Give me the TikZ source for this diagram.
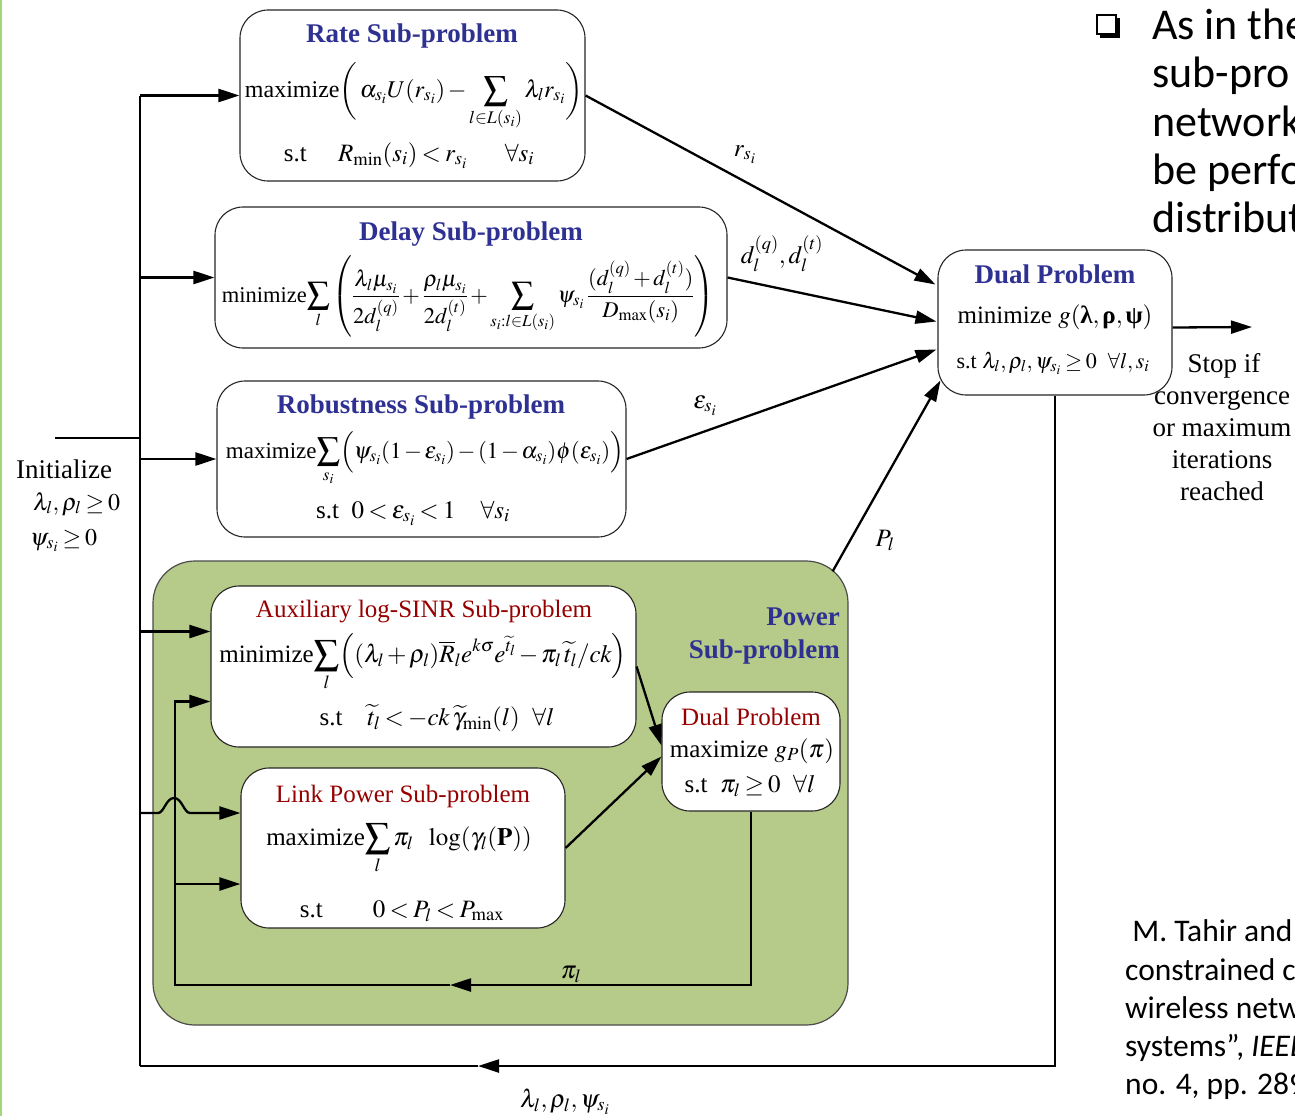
\documentclass[tikz,border=0pt]{standalone}
\usepackage{mathptmx}
\usepackage{amsmath}
\usepackage[no-math]{fontspec}
\setmainfont{Liberation Serif}
\newfontfamily\slidefont{Carlito}
\usetikzlibrary{arrows.meta}
\definecolor{titleblue}{RGB}{46,49,146}
\definecolor{titlered}{RGB}{150,0,0}
\definecolor{powergreen}{RGB}{182,202,137}
\definecolor{edgegreen}{RGB}{160,215,120}
% tighter spacing around operators and relations
\medmuskip=2mu plus 1mu minus 1mu
\thickmuskip=3mu plus 2mu
\begin{document}
\begin{tikzpicture}[x=1pt,y=-1pt,
  box/.style={draw=black!85,line width=1.1pt,rounded corners=28pt,fill=white,inner sep=0pt},
  conn/.style={line width=2.3pt},
  arr/.style={conn,-{Triangle[length=21pt,width=13pt]}},
  ttl/.style={anchor=base,inner sep=0pt,font=\fontsize{27}{32}\selectfont\bfseries,text=titleblue},
  subttl/.style={anchor=base,inner sep=0pt,font=\fontsize{25}{30}\selectfont,text=titlered},
  body/.style={anchor=base,inner sep=0pt,font=\fontsize{25}{30}\selectfont},
  small/.style={anchor=base,inner sep=0pt,font=\fontsize{22}{26}\selectfont},
  lbl/.style={anchor=base,inner sep=0pt,font=\fontsize{25}{30}\selectfont},
  plain/.style={anchor=base,inner sep=0pt,font=\fontsize{27}{32}\selectfont},
  slide/.style={anchor=base west,inner sep=0pt,font=\slidefont\fontsize{44}{48}\selectfont},
  cite/.style={anchor=base west,inner sep=0pt,font=\slidefont\fontsize{31.5}{38}\selectfont},
]
\useasboundingbox (0,0) rectangle (1295,1116);
\fill[white] (0,0) rectangle (1295,1116);
\draw[edgegreen,line width=2pt] (1,0) -- (1,1116);

% ---- power sub-problem container ----
\node[draw=black!70,line width=1.2pt,fill=powergreen,rounded corners=42pt,
      minimum width=695,minimum height=464,inner sep=0pt] (power) at (500.5,793) {};
\node[ttl,anchor=base east] (powerA) at (840,625) {Power};
\node[ttl,anchor=base east] (powerB) at (840,658) {Sub-problem};

% ---- boxes ----
\node[box,minimum width=345,minimum height=171] (rate)  at (412.5,95.5) {};
\node[box,minimum width=512,minimum height=141] (delay) at (471,277.5) {};
\node[box,minimum width=409,minimum height=156] (rob)   at (421.5,459) {};
\node[box,minimum width=234,minimum height=145] (dual)  at (1055,322.5) {};
\node[box,minimum width=425,minimum height=161] (aux)   at (423.5,666.5) {};
\node[box,minimum width=324,minimum height=160] (link)  at (403,848) {};
\node[box,minimum width=178,minimum height=119] (idual) at (751,751.5) {};

% ---- rate ----
\node[ttl] (rateT) at (412,43) {Rate Sub-problem};
\node[body,font=\fontsize{24}{29}\selectfont] (rateF) at (414,97) {maximize$\displaystyle\biggl(\,\alpha_{s_i}U(r_{s_i})-\sum_{l\in L(s_i)}\lambda_l r_{s_i}\biggr)$};
\node[body] (rateC) at (409,161) {s.t\quad\ $R_{\min}(s_i)<r_{s_i}\quad\ \ \forall s_i$};

% ---- delay ----
\node[ttl] (delayT) at (471,240) {Delay Sub-problem};
\node[body,font=\fontsize{22.5}{27}\selectfont] (delayF) at (468,302) {minimize$\displaystyle\sum_l\left(\frac{\lambda_l\mu_{s_i}}{2d_l^{(q)}}+\frac{\rho_l\mu_{s_i}}{2d_l^{(t)}}+\sum_{s_i:l\in L(s_i)}\psi_{s_i}\,\frac{(d_l^{(q)}+d_l^{(t)})}{D_{\max}(s_i)}\right)$};

% ---- robustness ----
\node[ttl] (robT) at (421,413) {Robustness Sub-problem};
\node[body,font=\fontsize{23}{28}\selectfont] (robF) at (425,458) {maximize$\displaystyle\sum_{s_i}\Bigl(\psi_{s_i}(1-\varepsilon_{s_i})-(1-\alpha_{s_i})\phi(\varepsilon_{s_i})\Bigr)$};
\node[body] (robC) at (413,518) {s.t\ \ $0<\varepsilon_{s_i}<1\quad\forall s_i$};

% ---- dual problem ----
\node[ttl] (dualT) at (1055,283) {Dual Problem};
\node[body] (dualF) at (1055,323) {minimize $g(\text{\bfseries λ},\text{\bfseries ρ},\text{\bfseries ψ})$};
\node[small] (dualC) at (1053,368) {s.t $\lambda_l,\rho_l,\psi_{s_i}\geq 0\ \ \forall l,s_i$};

% ---- auxiliary log-SINR ----
\node[subttl] (auxT) at (424,617) {Auxiliary log-SINR Sub-problem};
\node[body] (auxF) at (423,662) {minimize$\displaystyle\sum_l\Bigl((\lambda_l+\rho_l)\overline{R}_l e^{k\sigma}e^{\widetilde{t}_l}-\pi_l\,\widetilde{t}_l/ck\Bigr)$};
\node[body] (auxC) at (437,725) {s.t\quad $\widetilde{t}_l<-ck\,\widetilde{\gamma}_{\min}(l)\ \ \forall l$};

% ---- link power ----
\node[subttl] (linkT) at (403,802) {Link Power Sub-problem};
\node[body] (linkF) at (399,845) {maximize$\displaystyle\sum_l\pi_l\ \ \log(\gamma_l(\mathbf{P}))$};
\node[body] (linkC) at (402,917) {s.t\qquad $0<P_l<P_{\max}$};

% ---- inner dual ----
\node[subttl] (idualT) at (751,725) {Dual Problem};
\node[body] (idualF) at (752,757) {maximize $g_P(\pi)$};
\node[body] (idualC) at (750,792) {s.t\ \ $\pi_l\geq 0\ \ \forall l$};

% ---- initialisation ----
\node[plain,anchor=base west] (initT) at (16,478) {Initialize};
\node[body,anchor=base west,font=\fontsize{24}{28}\selectfont] (initA) at (33,510) {$\lambda_l,\rho_l\geq 0$};
\node[body,anchor=base west,font=\fontsize{24}{28}\selectfont] (initB) at (30,545) {$\psi_{s_i}\geq 0$};

% ---- stop criterion ----
\node[plain] (stop1) at (1224,372) {Stop if};
\node[plain] (stop2) at (1222,404) {convergence};
\node[plain] (stop3) at (1222,436) {or maximum};
\node[plain] (stop4) at (1222,468) {iterations};
\node[plain] (stop5) at (1222,500) {reached};

% ---- coordinates ----
\coordinate (ttop) at (140,95.5);
\coordinate (tbot) at (140,1066);
\coordinate (initL) at (55,438);
\coordinate (auxinA) at ([shift={(0,-35)}]aux.west);
\coordinate (auxinB) at ([shift={(0,35)}]aux.west);
\coordinate (linkinA) at ([shift={(0,-35)}]link.west);
\coordinate (linkinB) at ([shift={(0,36)}]link.west);
\coordinate (hopL) at (158,813);
\coordinate (hopR) at (190,813);
\coordinate (loopL) at (175,985);
\coordinate (pimid) at (450,985);
\coordinate (fbmid) at (478,1066);
\coordinate (stopend) at (1252,327);
\coordinate (inR) at ([shift={(-2,-38)}]dual.west);
\coordinate (inD) at ([shift={(-1,-1)}]dual.west);
\coordinate (inE) at ([shift={(-1,27)}]dual.west);
\coordinate (inP) at ([shift={(3,58)}]dual.west);
\coordinate (pout) at ([shift={(-16,11)}]power.north east);

% ---- connectors ----
\draw[conn] (initL) -- (initL -| ttop);
\draw[conn] (ttop) -- (tbot);
\draw[arr] (ttop) -- (rate.west);
\draw[arr] (ttop |- delay.west) -- (delay.west);
\draw[arr] (ttop |- rob.west) -- (rob.west);
\draw[arr] (ttop |- auxinA) -- (auxinA);
\draw[arr] (ttop |- linkinA) -- (hopL) .. controls (164,813) and (166,798) .. (174,798)
           .. controls (182,798) and (184,813) .. (hopR) -- (linkinA);

\draw[arr] (idual.south) |- (pimid);
\draw[arr] (pimid) -- (loopL) -- (loopL |- auxinB) -- (auxinB);
\draw[arr] (loopL |- linkinB) -- (linkinB);
\draw[arr] (aux.east) -- ([shift={(0,-6)}]idual.west);
\draw[arr] (link.east) -- ([shift={(0,5)}]idual.west);

\draw[arr] (rate.east) -- (inR);
\draw[arr] (delay.east) -- (inD);
\draw[arr] (rob.east) -- (inE);
\draw[arr] (pout) -- (inP);
\draw[arr] ([shift={(0,5)}]dual.east) -- (stopend);
\draw[arr] (dual.south) |- (fbmid);
\draw[conn] (fbmid) -- (tbot);

% ---- connector labels ----
\node[lbl] (lr) at (745,156) {$r_{s_i}$};
\node[lbl] (ld) at (782,263) {$d_l^{(q)},d_l^{(t)}$};
\node[lbl] (le) at (705,408) {$\varepsilon_{s_i}$};
\node[lbl] (lp) at (885,546) {$P_l$};
\node[lbl] (lpi) at (571,978) {$\pi_l$};
\node[lbl] (llam) at (565,1107) {$\lambda_l,\rho_l,\psi_{s_i}$};

% ---- slide text ----
\begin{scope}
\clip (0,0) rectangle (1295,1116);
\fill[black] (1100,18) rectangle (1120,38);
\draw[fill=white,line width=1.2pt] (1097,15) rectangle (1116,34);
\node[slide] (b1) at (1152,40) {As in the};
\node[slide] (b2) at (1152,88) {sub-pro};
\node[slide] (b3) at (1152,136) {network};
\node[slide] (b4) at (1152,184) {be perfo};
\node[slide] (b5) at (1152,232) {distribut};
\node[cite] (c1) at (1125,941) {\ M. Tahir and};
\node[cite] (c2) at (1125,980) {constrained c};
\node[cite] (c3) at (1125,1018) {wireless netw};
\node[cite] (c4) at (1125,1056) {systems”, \textit{IEEE}};
\node[cite] (c5) at (1125,1094) {no. 4, pp. 289};
\end{scope}
\end{tikzpicture}
\end{document}
